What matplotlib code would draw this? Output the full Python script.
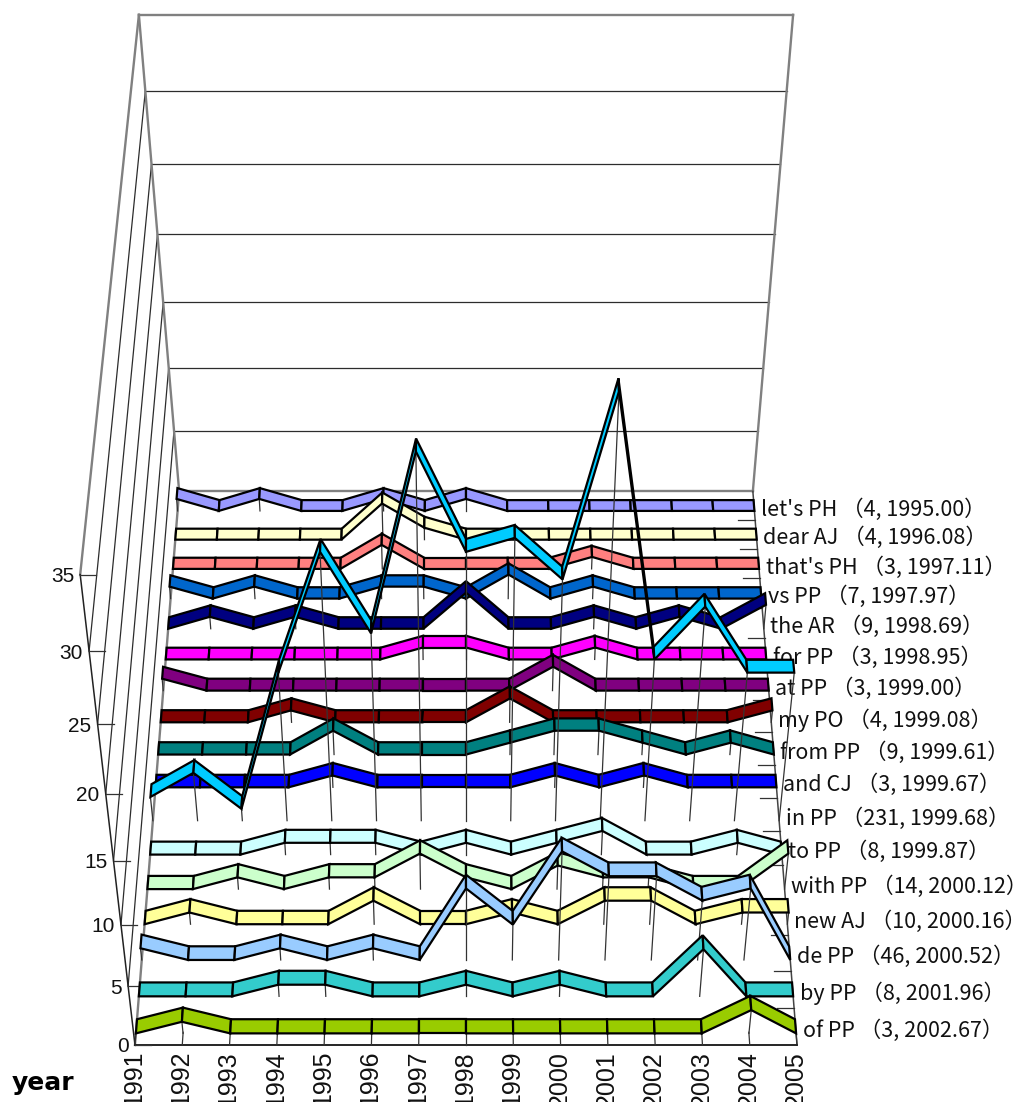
import numpy as np
import matplotlib
matplotlib.use('Agg')
import matplotlib.pyplot as plt
from matplotlib.patches import Polygon

years = list(range(1991, 2006))
# series listed front to back, same order as the depth axis
names = ["of PP", "by PP", "de PP", "new AJ", "with PP", "to PP", "in PP", "and CJ", "from PP",
         "my PO", "at PP", "for PP", "the AR", "vs PP", "that's PH", "dear AJ", "let's PH"]
totals = [3, 8, 46, 10, 14, 8, 231, 3, 9, 4, 3, 3, 9, 7, 3, 4, 4]
means = ["2002.67", "2001.96", "2000.52", "2000.16", "2000.12", "1999.87", "1999.68", "1999.67", "1999.61",
         "1999.08", "1999.00", "1998.95", "1998.69", "1997.97", "1997.11", "1996.08", "1995.00"]
colors = ["#99CC00", "#33CCCC", "#99CCFF", "#FFFF99", "#CCFFCC", "#CCFFFF", "#00CCFF", "#0000FF", "#008080",
          "#800000", "#800080", "#FF00FF", "#000080", "#0066CC", "#FF8080", "#FFFFCC", "#9999FF"]

of_pp = [0, 1, 0, 0, 0, 0, 0, 0, 0, 0, 0, 0, 0, 2, 0]
by_pp = [0, 0, 0, 1, 1, 0, 0, 1, 0, 1, 0, 0, 4, 0, 0]
de_pp = [1, 0, 0, 1, 0, 1, 0, 6, 3, 9, 7, 7, 5, 6, 0]
new_aj = [0, 1, 0, 0, 0, 2, 0, 0, 1, 0, 2, 2, 0, 1, 1]
with_pp = [0, 0, 1, 0, 1, 1, 3, 1, 0, 2, 1, 1, 0, 0, 3]
to_pp = [0, 0, 0, 1, 1, 1, 0, 1, 0, 1, 2, 0, 0, 1, 0]
in_pp = [2, 4, 1, 12, 21, 15, 28, 21, 22, 19, 32, 13, 17, 12, 12]
and_cj = [0, 0, 0, 0, 1, 0, 0, 0, 0, 1, 0, 1, 0, 0, 0]
from_pp = [0, 0, 0, 0, 2, 0, 0, 0, 1, 2, 2, 1, 0, 1, 0]
my_po = [0, 0, 0, 1, 0, 0, 0, 0, 2, 0, 0, 0, 0, 0, 1]
at_pp = [1, 0, 0, 0, 0, 0, 0, 0, 0, 2, 0, 0, 0, 0, 0]
for_pp = [0, 0, 0, 0, 0, 0, 1, 1, 0, 0, 1, 0, 0, 0, 0]
the_ar = [0, 1, 0, 1, 0, 0, 0, 3, 0, 0, 1, 0, 1, 0, 2]
vs_pp = [1, 0, 1, 0, 0, 1, 1, 0, 2, 0, 1, 0, 0, 0, 0]
thats_ph = [0, 0, 0, 0, 0, 2, 0, 0, 0, 0, 1, 0, 0, 0, 0]
dear_aj = [0, 0, 0, 0, 0, 3, 1, 0, 0, 0, 0, 0, 0, 0, 0]
lets_ph = [1, 0, 1, 0, 0, 1, 0, 1, 0, 0, 0, 0, 0, 0, 0]
series = [of_pp, by_pp, de_pp, new_aj, with_pp, to_pp, in_pp, and_cj, from_pp,
          my_po, at_pp, for_pp, the_ar, vs_pp, thats_ph, dear_aj, lets_ph]
yticks = [0, 5, 10, 15, 20, 25, 30, 35]

n_years = len(years)
n_series = len(series)
ymax = yticks[-1]


def proj(year_idx, val, depth):
    # camera projection of the box: year index, value, depth 0 (front) .. 1 (back)
    w = 1 + 0.154 * depth - 0.142 * val / ymax
    px = 466 + 47.29 * (year_idx - 7) / w
    py = (1045 - 552 * val / ymax - 478 * depth) / w
    return px, py


def line3(a, b, **kw):
    pa, pb = proj(*a), proj(*b)
    ax.plot([pa[0], pb[0]], [pa[1], pb[1]], solid_capstyle='projecting', **kw)


fig = plt.figure(figsize=(10.18, 11.02), dpi=100)
ax = fig.add_axes([0, 0, 1, 1])
ax.set_xlim(0, 1018)
ax.set_ylim(1102, 0)
ax.axis('off')

last = n_years - 1
grid_kw = dict(color='#2c2c2c', lw=0.9, zorder=2)
edge_kw = dict(color='#808080', lw=1.7, zorder=2)

# gridlines on back and side wall
for v in yticks[1:-1]:
    line3((0, v, 1), (last, v, 1), **grid_kw)
for v in yticks[1:-1]:
    line3((0, v, 0), (0, v, 1), **grid_kw)
# frame of walls and floor
line3((0, ymax, 1), (last, ymax, 1), **edge_kw)
line3((0, ymax, 1), (0, 0, 1), **edge_kw)
line3((last, ymax, 1), (last, 0, 1), **edge_kw)
line3((0, ymax, 0), (0, ymax, 1), **edge_kw)
line3((0, 0, 1), (last, 0, 1), **edge_kw)
line3((0, 0, 0), (0, 0, 1), **edge_kw)
line3((last, 0, 0), (last, 0, 1), color='#444444', lw=1.1, zorder=2)
line3((0, 0, 0), (0, ymax, 0), color='#222222', lw=1.1, zorder=2)
line3((0, 0, 0), (last, 0, 0), color='black', lw=1.2, zorder=2)

# ticks and tick labels
for v in yticks:
    px, py = proj(0, v, 0)
    ax.plot([px, px + 16], [py, py], color='#333333', lw=0.9, zorder=2)
    ax.text(px - 6, py + 2, str(v), ha='right', va='center', fontsize=15,
            family='Liberation Sans', color='#111111', zorder=2)
for j, yr in enumerate(years):
    line3((j, 0, 0), (j, 0, 0.02), color='#333333', lw=0.9, zorder=2)
    px, py = proj(j, 0, 0)
    ax.text(px - 1, py + 6, str(yr), rotation=90, ha='center', va='top', fontsize=18,
            family='Liberation Sans', color='#111111', zorder=2)
for i in range(1, n_series):
    px, py = proj(last, 0, i / n_series)
    ax.plot([px - 17, px], [py, py], color='#333333', lw=0.9, zorder=2)
for i, nm in enumerate(names):
    px, py = proj(last, 0, (i + 0.5) / n_series)
    ax.text(px + 7, py + 4, "%s \uff08%d, %s\uff09" % (nm, totals[i], means[i]), ha='left', va='center',
            fontsize=15.5, family=['Noto Sans CJK JP', 'DejaVu Sans'], color='#111111', zorder=2)
ax.text(12, 1083, "year", ha='left', va='center', fontsize=18, fontweight='bold',
        family='DejaVu Sans', color='black', zorder=2)

# ribbons painted back to front, each with its drop lines first
z = 10
for i in range(n_series - 1, -1, -1):
    vals = series[i]
    zf = (i + 0.31) / n_series
    zb = (i + 0.69) / n_series
    for j, v in enumerate(vals):
        if v > 0:
            line3((j, v, zf), (j, 0, zf), color='#333333', lw=0.9, zorder=z)
    for j in range(n_years - 1):
        quad = [proj(j, vals[j], zf), proj(j + 1, vals[j + 1], zf),
                proj(j + 1, vals[j + 1], zb), proj(j, vals[j], zb)]
        ax.add_patch(Polygon(quad, closed=True, facecolor=colors[i], edgecolor='black',
                             lw=1.6, joinstyle='miter', zorder=z))
    z += 1

fig.savefig('out.png', dpi=100)
